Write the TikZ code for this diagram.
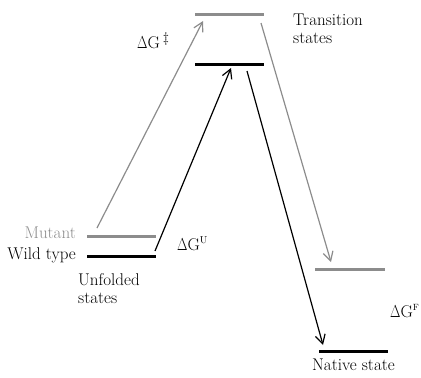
\documentclass[tikz,border=0pt]{standalone}
\usetikzlibrary{arrows.meta}
\definecolor{mgray}{HTML}{8C8C8C}
\newcommand{\nDelta}{\scalebox{0.78}[1]{$\Delta$}}
\begin{document}
\begin{tikzpicture}[x=1pt,y=-1pt,
  lbl/.style={inner sep=0pt,font=\fontsize{17}{19}\selectfont},
  bar/.style={line width=3pt},
  conn/.style={line width=1.2pt,-{Straight Barb[length=9pt,width=10pt,line width=1.2pt]}}]
\useasboundingbox (0,0) rectangle (421,378);
% bars
\coordinate (tsmL) at (195,14); \coordinate (tsmR) at (264,14);
\coordinate (tswL) at (195,64); \coordinate (tswR) at (264,64);
\coordinate (umL) at (87,236); \coordinate (umR) at (156,236);
\coordinate (uwL) at (87,256); \coordinate (uwR) at (156,256);
\coordinate (nmL) at (315,269); \coordinate (nmR) at (385,269);
\coordinate (nwL) at (319,351); \coordinate (nwR) at (388,351);
\draw[bar,mgray] (tsmL) -- (tsmR);
\draw[bar,black] (tswL) -- (tswR);
\draw[bar,mgray] (umL) -- (umR);
\draw[bar,black] (uwL) -- (uwR);
\draw[bar,mgray] (nmL) -- (nmR);
\draw[bar,black] (nwL) -- (nwR);
% arrow endpoints
\coordinate (a1s) at (97,228); \coordinate (a1e) at (203,21);
\coordinate (a2s) at (155,251); \coordinate (a2e) at (231,68);
\coordinate (a3s) at (261,23); \coordinate (a3e) at (331,262);
\coordinate (a4s) at (247,71); \coordinate (a4e) at (323,345);
\draw[conn,mgray] (a1s) -- (a1e);
\draw[conn,black] (a2s) -- (a2e);
\draw[conn,mgray] (a3s) -- (a3e);
\draw[conn,black] (a4s) -- (a4e);
% labels
\node[lbl,anchor=base west] (tr1) at (293,25) {Transition};
\node[lbl,anchor=base west] (tr2) at (293,43.5) {states};
\node[lbl,anchor=base west] (dgts) at (137,48) {\nDelta G\,\raisebox{6pt}{\fontsize{14}{14}\selectfont\ddag}};
\node[lbl,anchor=base east,text=mgray] (mut) at (76,238) {Mutant};
\node[lbl,anchor=base east] (wt) at (76,259.5) {Wild type};
\node[lbl,anchor=base west] (uf1) at (78,285) {Unfolded};
\node[lbl,anchor=base west] (uf2) at (78,303.5) {states};
\node[lbl,anchor=base west] (dgu) at (177,250) {\nDelta G\raisebox{7pt}{\fontsize{10}{10}\selectfont U}};
\node[lbl,anchor=base west] (dgf) at (390,317) {\nDelta G\raisebox{7pt}{\fontsize{9}{9}\selectfont F}};
\node[lbl,anchor=base west] (nat) at (312,370) {Native state};
\end{tikzpicture}
\end{document}
